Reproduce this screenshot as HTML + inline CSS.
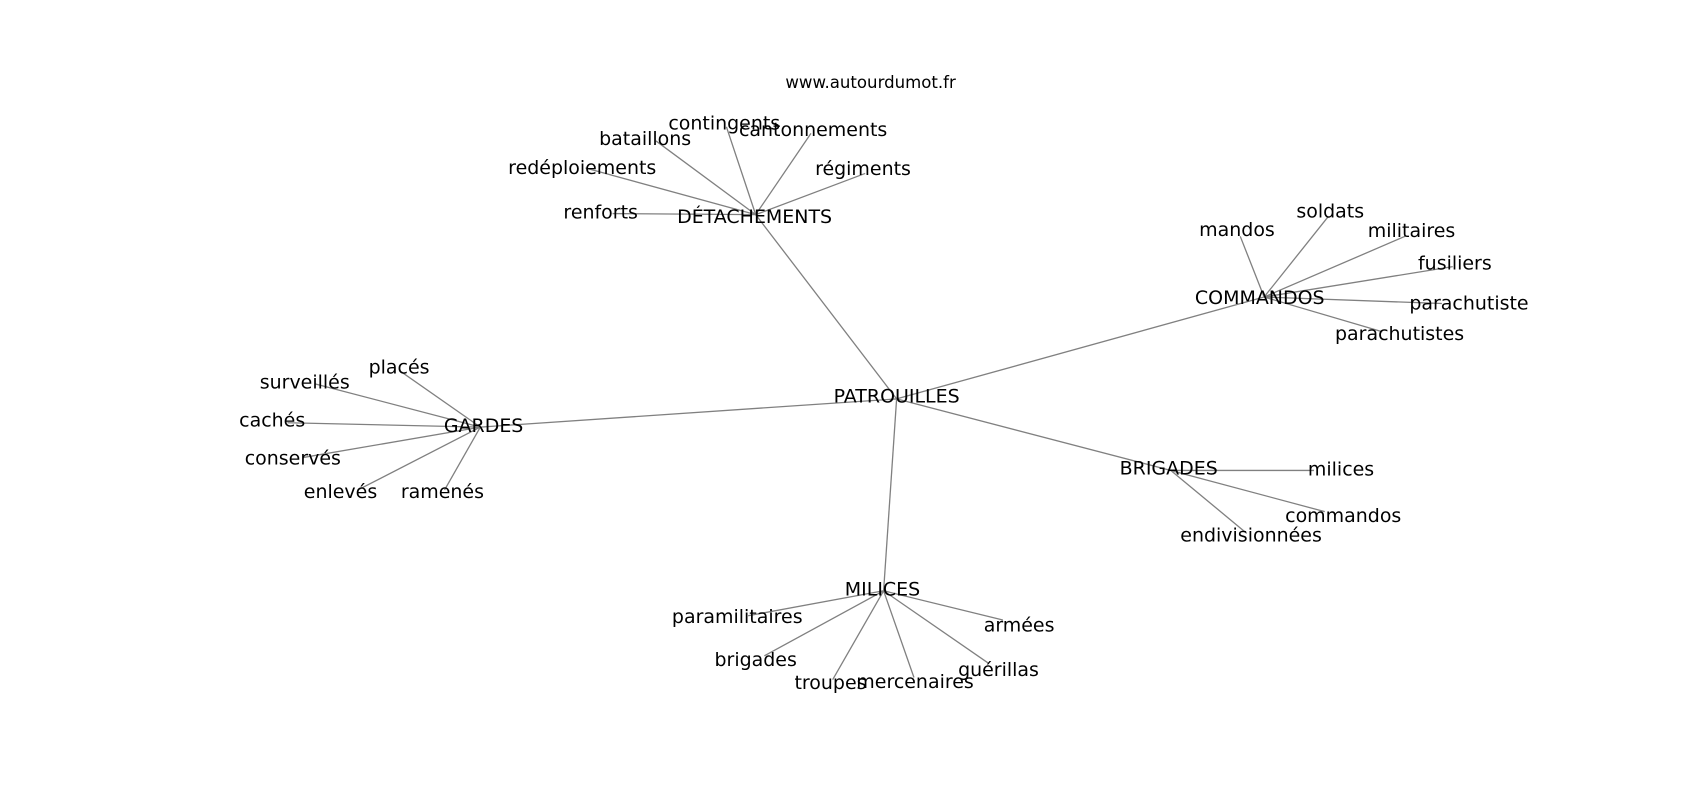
<!DOCTYPE html>
<html><head><meta charset="utf-8"><style>
html,body{margin:0;padding:0;background:#fff;}
svg{display:block;}
text{font-family:"DejaVu Sans","Liberation Sans",sans-serif;font-size:17.5px;fill:#000;text-anchor:middle;dominant-baseline:central;}
line{stroke:#808080;stroke-width:1.2;}
</style></head><body>
<svg width="1700" height="800" viewBox="0 0 1568 738" xmlns="http://www.w3.org/2000/svg">
<g>
<line x1="827" y1="368" x2="697" y2="198"/>
<line x1="827" y1="368" x2="1166" y2="274"/>
<line x1="827" y1="368" x2="443" y2="394"/>
<line x1="827" y1="368" x2="1080" y2="434"/>
<line x1="827" y1="368" x2="815" y2="545"/>
<line x1="697" y1="198" x2="565" y2="197"/>
<line x1="697" y1="198" x2="540" y2="155"/>
<line x1="697" y1="198" x2="605" y2="130"/>
<line x1="697" y1="198" x2="670" y2="117"/>
<line x1="697" y1="198" x2="748" y2="123"/>
<line x1="697" y1="198" x2="798" y2="160"/>
<line x1="1166" y1="274" x2="1144" y2="218"/>
<line x1="1166" y1="274" x2="1225" y2="200"/>
<line x1="1166" y1="274" x2="1296" y2="218"/>
<line x1="1166" y1="274" x2="1340" y2="246"/>
<line x1="1166" y1="274" x2="1330" y2="280"/>
<line x1="1166" y1="274" x2="1275" y2="306"/>
<line x1="443" y1="394" x2="370" y2="343"/>
<line x1="443" y1="394" x2="290" y2="354"/>
<line x1="443" y1="394" x2="265" y2="390"/>
<line x1="443" y1="394" x2="280" y2="422"/>
<line x1="443" y1="394" x2="330" y2="452"/>
<line x1="443" y1="394" x2="410" y2="452"/>
<line x1="1080" y1="434" x2="1212" y2="434"/>
<line x1="1080" y1="434" x2="1222" y2="472"/>
<line x1="1080" y1="434" x2="1150" y2="492"/>
<line x1="815" y1="545" x2="690" y2="568"/>
<line x1="815" y1="545" x2="705" y2="605"/>
<line x1="815" y1="545" x2="768" y2="627"/>
<line x1="815" y1="545" x2="843" y2="625"/>
<line x1="815" y1="545" x2="912" y2="612"/>
<line x1="815" y1="545" x2="925" y2="572"/>
</g>
<text x="803" y="76" style="font-size:15.3px">www.autourdumot.fr</text>
<text x="827" y="366">PATROUILLES</text>
<text x="696" y="200">DÉTACHEMENTS</text>
<text x="668" y="114">contingents</text>
<text x="595" y="128">bataillons</text>
<text x="750" y="120">cantonnements</text>
<text x="537" y="155">redéploiements</text>
<text x="796" y="156">régiments</text>
<text x="554" y="196">renforts</text>
<text x="1162" y="275">COMMANDOS</text>
<text x="1141" y="212">mandos</text>
<text x="1227" y="195">soldats</text>
<text x="1302" y="213">militaires</text>
<text x="1342" y="243">fusiliers</text>
<text x="1355" y="280">parachutiste</text>
<text x="1291" y="308">parachutistes</text>
<text x="446" y="393">GARDES</text>
<text x="368" y="339">placés</text>
<text x="281" y="353">surveillés</text>
<text x="251" y="388">cachés</text>
<text x="270" y="423">conservés</text>
<text x="314" y="454">enlevés</text>
<text x="408" y="454">ramenés</text>
<text x="1078" y="432">BRIGADES</text>
<text x="1237" y="433">milices</text>
<text x="1239" y="476">commandos</text>
<text x="1154" y="494">endivisionnées</text>
<text x="814" y="544">MILICES</text>
<text x="680" y="569">paramilitaires</text>
<text x="697" y="609">brigades</text>
<text x="766" y="630">troupes</text>
<text x="844" y="629">mercenaires</text>
<text x="921" y="618">guérillas</text>
<text x="940" y="577">armées</text>
</svg>
</body></html>
